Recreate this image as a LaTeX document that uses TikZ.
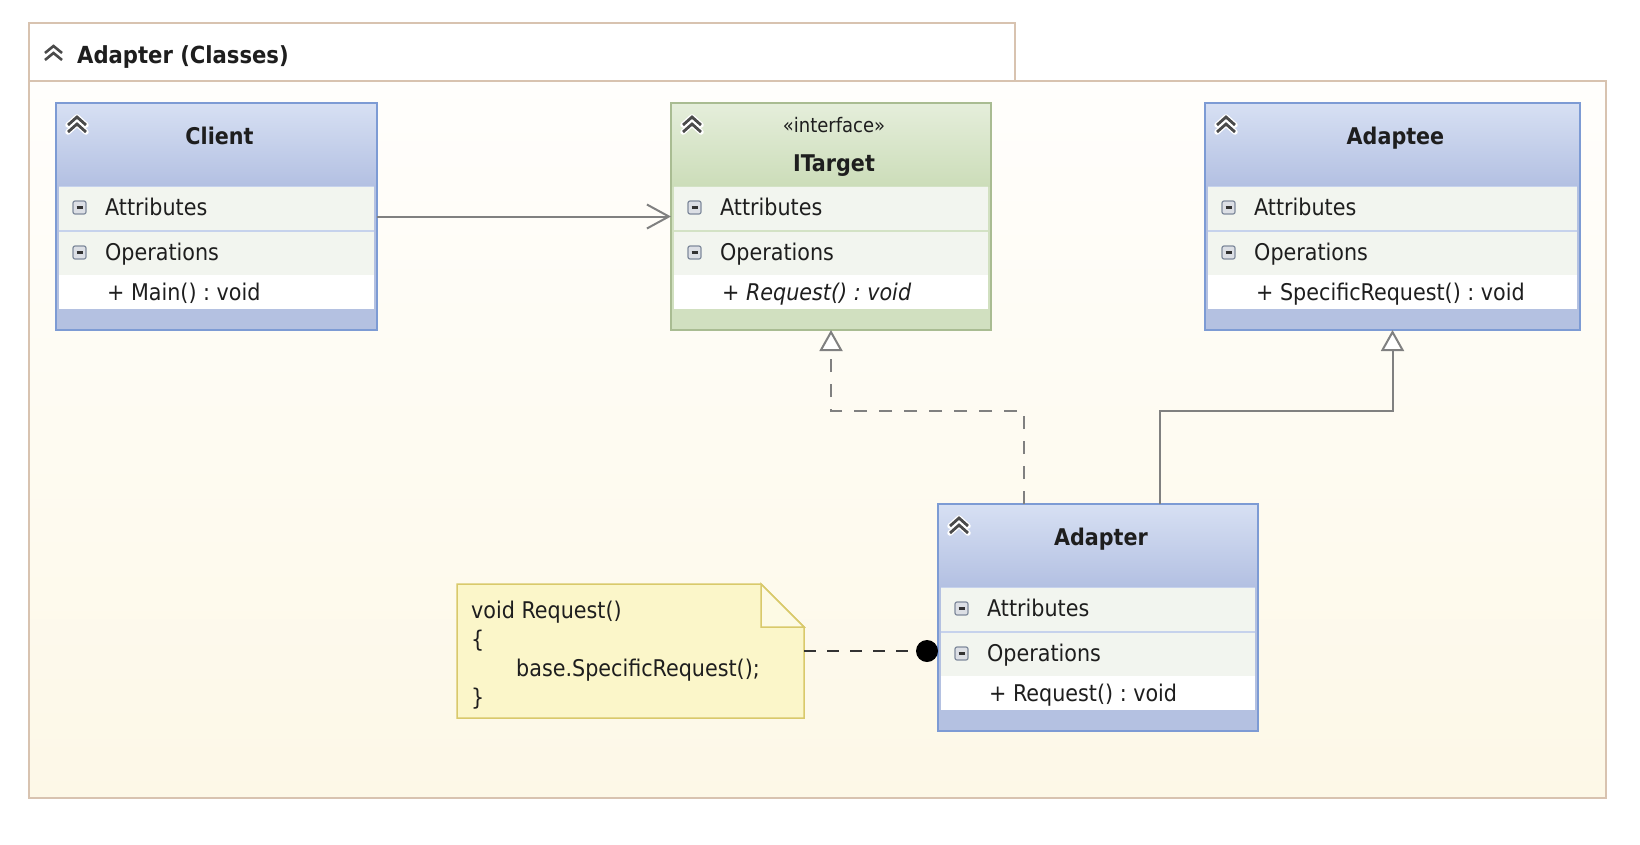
\documentclass[tikz,border=0pt]{standalone}
\usepackage{fontspec}
\setmainfont{DejaVu Sans Condensed}
\usetikzlibrary{arrows.meta,calc}
\frenchspacing

\definecolor{pkgborder}{HTML}{D8C3B0}
\definecolor{pkgtop}{HTML}{FFFEFC}
\definecolor{pkgbot}{HTML}{FDF8E7}
\definecolor{bborder}{HTML}{7D9BD4}
\definecolor{bhtop}{HTML}{D7E0F3}
\definecolor{bhbot}{HTML}{B3C0E2}
\definecolor{bband}{HTML}{B4C1E1}
\definecolor{bsep}{HTML}{C6D2EC}
\definecolor{rowfill}{HTML}{F2F5EF}
\definecolor{gborder}{HTML}{A9BC92}
\definecolor{ghtop}{HTML}{E5EEDB}
\definecolor{ghbot}{HTML}{CCDDB9}
\definecolor{gband}{HTML}{D1E0C0}
\definecolor{gsep}{HTML}{D3E2C5}
\definecolor{linegrey}{HTML}{808080}
\definecolor{notefill}{HTML}{FBF6C9}
\definecolor{notefold}{HTML}{FDFAE4}
\definecolor{noteborder}{HTML}{D9C96B}
\definecolor{txt}{HTML}{1E1E1E}
\definecolor{chevc}{HTML}{4A4A4A}
\definecolor{iconborder}{HTML}{7F8A9C}
\definecolor{iconfill}{HTML}{DCDFE5}
\definecolor{icondark}{HTML}{333333}

\tikzset{
  lbl/.style={inner sep=0pt, anchor=base west, text=txt, font=\fontsize{23}{27}\selectfont},
  ttl/.style={inner sep=0pt, anchor=base, text=txt, font=\bfseries\fontsize{23}{27}\selectfont},
  stereo/.style={inner sep=0pt, anchor=base, text=txt, font=\fontsize{20}{24}\selectfont},
  boxname/.style={inner sep=0pt, outer sep=0pt, draw=none, anchor=center},
  assoc/.style={draw=linegrey, line width=2pt, -{Straight Barb[length=22pt,width=24pt]}},
  realize/.style={draw=linegrey, line width=2pt, dash pattern=on 13pt off 12pt,
    -{Triangle[fill=white, length=21pt, width=23pt]}},
  generalize/.style={draw=linegrey, line width=2pt,
    -{Triangle[fill=white, length=21pt, width=23pt]}},
  notelink/.style={draw=black!80, line width=2pt, dash pattern=on 12pt off 11pt},
}

\newcommand{\dblchev}[2]{%
  \begin{scope}[shift={(#1,#2)}]
    \draw[white, line width=5.5pt, line cap=round, line join=round] (0,8)--(9,0)--(18,8) (0,15)--(9,7)--(18,15);
    \draw[chevc, line width=2.8pt] (0,8)--(9,0)--(18,8) (0,15)--(9,7)--(18,15);
  \end{scope}}

\newcommand{\minusicon}[2]{%
  \draw[rounded corners=2pt, fill=iconfill, draw=iconborder, line width=1.2pt] (#1,#2-6.5) rectangle (#1+13,#2+6.5);
  \draw[line width=2.2pt, icondark] (#1+3.5,#2) -- (#1+9.5,#2);}

% #1 name, #2 x, #3 y, #4 width, #5 scheme, #6 title, #7 title baseline, #8 member
\newcommand{\umlclass}[8]{%
  \begin{scope}[shift={(#2,#3)}]
    \fill[#5band] (0,0) rectangle (#4,227);
    \shade[top color=#5htop, bottom color=#5hbot] (0,0) rectangle (#4,83);
    \fill[rowfill] (3,83) rectangle (#4-3,126.5);
    \fill[#5sep] (3,126.5) rectangle (#4-3,128.5);
    \fill[rowfill] (3,128.5) rectangle (#4-3,172);
    \fill[white] (3,172) rectangle (#4-3,206);
    \draw[#5sep, line width=1pt] (3,83.5) -- (#4-3,83.5);
    \draw[#5border, line width=2pt] (0,0) rectangle (#4,227);
    \node[boxname, minimum width=#4pt, minimum height=227pt] (#1) at (#4/2,113.5) {};
    \dblchev{12}{14}
    \node[ttl] (#1-title) at (#4/2+3,#7) {#6};
    \minusicon{17}{104.5}
    \minusicon{17}{149.5}
    \node[lbl] (#1-attr) at (49,112) {Attributes};
    \node[lbl] (#1-ops) at (49,157) {Operations};
    \node[lbl] (#1-op1) at (51,197) {#8};
  \end{scope}}

\begin{document}
\begin{tikzpicture}[x=1pt,y=-1pt]
  \useasboundingbox (0,0) rectangle (1640,844);
  \fill[white] (0,0) rectangle (1640,844);

  % package frame
  \filldraw[fill=white, draw=pkgborder, line width=1.5pt] (29,23) rectangle (1015,81);
  \shade[top color=pkgtop, bottom color=pkgbot] (29,81) rectangle (1606,798);
  \draw[pkgborder, line width=1.5pt] (29,81) rectangle (1606,798);
  \begin{scope}[shift={(45,46)}]
    \draw[chevc, line width=2.6pt] (0,7)--(8.5,0)--(17,7) (0,14)--(8.5,7)--(17,14);
  \end{scope}
  \node[ttl, anchor=base west, font=\bfseries\fontsize{23.5}{28}\selectfont] (pkgtitle) at (77,63) {Adapter (Classes)};

  % classes
  \umlclass{client}{56}{103}{321}{b}{Client}{41}{+ Main() : void}
  \umlclass{itarget}{671}{103}{320}{g}{ITarget}{68}{\itshape + Request() : void}
  \node[stereo] (itarget-stereo) at (834,132) {«interface»};
  \umlclass{adaptee}{1205}{103}{375}{b}{Adaptee}{41}{+ SpecificRequest() : void}
  \umlclass{adapter}{938}{504}{320}{b}{Adapter}{41}{+ Request() : void}

  % note
  \node[boxname, minimum width=347pt, minimum height=134pt] (note) at (630.5,651) {};
  \filldraw[fill=notefill, draw=noteborder, line width=1.5pt]
    (457,584) -- (761,584) -- (804,627) -- (804,718) -- (457,718) -- cycle;
  \filldraw[fill=notefold, draw=noteborder, line width=1.5pt, line join=miter]
    (761,584) -- (761,627) -- (804,627) -- cycle;
  \node[lbl] (note-l1) at (471,618) {void Request()};
  \node[lbl] (note-l2) at (471,647) {\{};
  \node[lbl] (note-l3) at (516,676) {base.SpecificRequest();};
  \node[lbl] (note-l4) at (471,705) {\}};

  % connectors
  \draw[assoc] (client.east) -- (itarget.west);

  \coordinate (real-start) at ($(adapter.north west)+(86,0)$);
  \coordinate (real-bend) at ($(real-start)+(0,-93)$);
  \draw[realize] (real-start) -- (real-bend) -| (itarget.south);

  \coordinate (gen-start) at ($(adapter.north west)+(222,0)$);
  \coordinate (gen-bend) at ($(gen-start)+(0,-93)$);
  \draw[generalize] (gen-start) -- (gen-bend) -| (adaptee.south);

  \coordinate (dot) at (927,651);
  \draw[notelink] (note.east) -- (dot);
  \fill[black] (dot) circle (11pt);
\end{tikzpicture}
\end{document}
